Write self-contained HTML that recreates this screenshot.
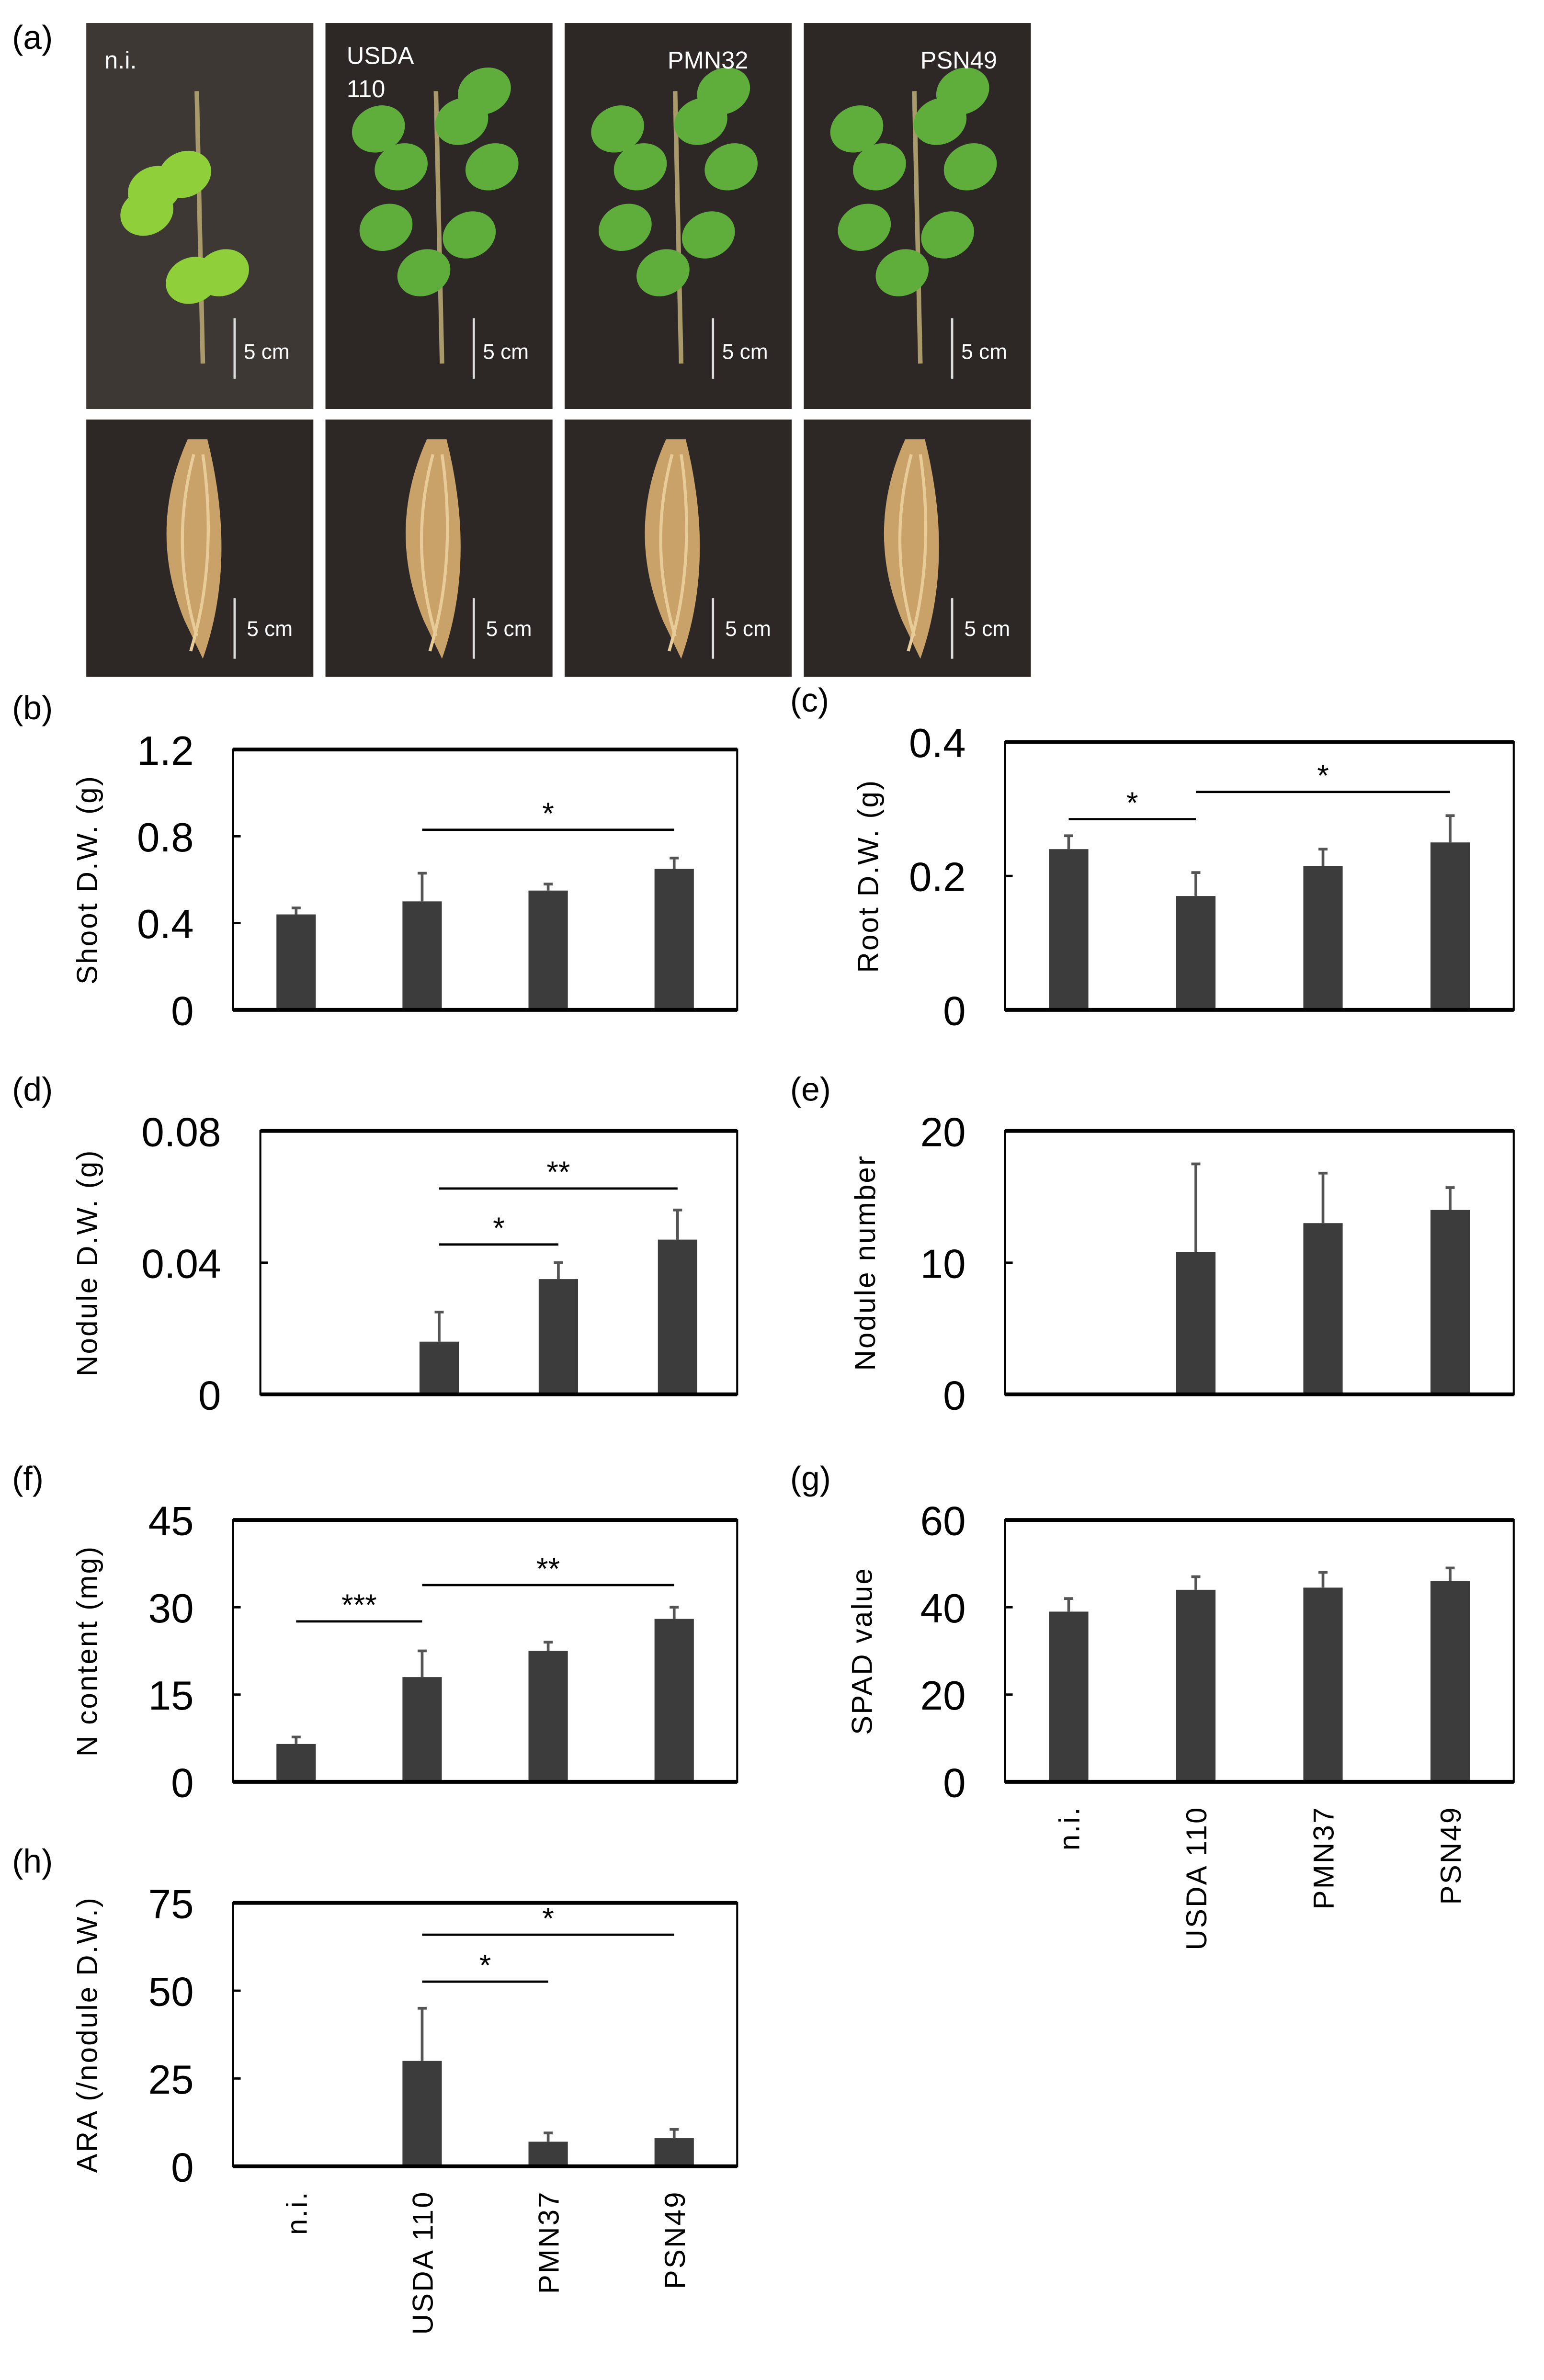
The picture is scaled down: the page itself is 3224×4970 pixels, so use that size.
<!DOCTYPE html>
<html><head><meta charset="utf-8"><style>
html,body{margin:0;padding:0;background:#fff;}
svg{display:block;}
text{font-family:"Liberation Sans","Noto Sans CJK JP",sans-serif;}
</style></head><body>
<svg id="fig" width="3224" height="4970" viewBox="0 0 1020 1572" xmlns="http://www.w3.org/2000/svg">
<rect width="1020" height="1572" fill="#fff"/>
<g id="photos">
<text x="8" y="32" font-size="22">(a)</text>
</g>
<g id="charts"></g>
</svg>
<script>
var NS="http://www.w3.org/2000/svg";
function mk(tag,attrs,parent,txt){var e=document.createElementNS(NS,tag);for(var k in attrs)e.setAttribute(k,attrs[k]);if(txt!==undefined)e.textContent=txt;parent.appendChild(e);return e;}
var categories=["n.i.","USDA 110","PMN37","PSN49"];
var shootVals=[0.44,0.50,0.55,0.65], shootErr=[0.03,0.13,0.03,0.05];
var rootVals=[0.24,0.17,0.215,0.25], rootErr=[0.02,0.035,0.025,0.04];
var noduleDwVals=[0,0.016,0.035,0.047], noduleDwErr=[0,0.009,0.005,0.009];
var noduleNumVals=[0,10.8,13,14], noduleNumErr=[0,6.7,3.8,1.7];
var nVals=[6.5,18,22.5,28], nErr=[1.2,4.5,1.5,2];
var spadVals=[39,44,44.5,46], spadErr=[3,3,3.5,3];
var araVals=[0,30,7,8], araErr=[0,15,2.5,2.5];
var shootTicks=["0","0.4","0.8","1.2"], rootTicks=["0","0.2","0.4"], noduleDwTicks=["0","0.04","0.08"], noduleNumTicks=["0","10","20"], nTicks=["0","15","30","45"], spadTicks=["0","20","40","60"], araTicks=["0","25","50","75"];

// photos
var photos=document.getElementById('photos');
var cols=[57,215,373,531], pw=150, names=["n.i.","USDA","PMN32","PSN49"];
cols.forEach(function(x,i){
  var g=mk('g',{},photos);
  
  
  mk('rect',{x:x,y:15,width:pw,height:255,fill:i==0?'#3e3834':'#2d2826'},g);
  var cx=x+75;
  mk('path',{d:'M'+(cx+2)+' 240 L'+(cx)+' 150 L'+(cx-2)+' 60',stroke:'#a89a6a','stroke-width':3,fill:'none'},g);
  var lc=i==0?'#8fcf3a':'#5fae3c';
  var leaves=i==0?[[-30,125],[-10,115],[-35,140],[15,180],[-5,185]]:[[-40,85],[-25,110],[30,60],[15,80],[20,155],[-10,180],[35,110],[-35,150]];
  leaves.forEach(function(l){mk('ellipse',{cx:cx+l[0],cy:l[1],rx:18,ry:15,fill:lc,transform:'rotate(-25 '+(cx+l[0])+' '+l[1]+')'},g);});
  mk('line',{x1:x+98,y1:210,x2:x+98,y2:250,stroke:'#ddd','stroke-width':1.5},g);
  mk('text',{x:x+104,y:237,'font-size':14,fill:'#fff'},g,'5 cm');
  var r=mk('g',{},photos);
  
  
  mk('rect',{x:x,y:277,width:pw,height:170,fill:'#2d2826'},r);
  mk('path',{d:'M'+(cx-8)+' 290 Q'+(cx-35)+' 350 '+(cx-10)+' 410 L'+(cx+2)+' 435 Q'+(cx+25)+' 370 '+(cx+5)+' 290 Z',fill:'#c9a26a'},r);
  mk('path',{d:'M'+(cx-4)+' 300 Q'+(cx-20)+' 360 '+(cx-2)+' 420 M'+(cx+2)+' 300 Q'+(cx+12)+' 370 '+(cx-6)+' 430',stroke:'#e8cc98','stroke-width':2,fill:'none'},r);
  mk('line',{x1:x+98,y1:395,x2:x+98,y2:435,stroke:'#ddd','stroke-width':1.5},r);
  mk('text',{x:x+106,y:420,'font-size':14,fill:'#fff'},r,'5 cm');
});
mk('text',{x:69,y:45,'font-size':16,fill:'#fff'},photos,'n.i.');
mk('text',{x:229,y:42,'font-size':16,fill:'#fff'},photos,'USDA');
mk('text',{x:229,y:64,'font-size':16,fill:'#fff'},photos,'110');
mk('text',{x:441,y:45,'font-size':16,fill:'#fff'},photos,'PMN32');
mk('text',{x:608,y:45,'font-size':16,fill:'#fff'},photos,'PSN49');

var charts=document.getElementById('charts');
function chart(o){
  var g=mk('g',{},charts);
  
  
  var L=o.x0,R=o.x1,T=o.y0,B=o.y1,max=o.max;
  function ys(v){return B-(v/max)*(B-T);}
  function xs(i){return L+(i+0.5)*(R-L)/4;}
  var lab=mk('text',{x:o.lx,y:T-20,'font-size':22},g,o.label);
  
  
  o.ticks.forEach(function(t){var v=parseFloat(t);var y=ys(v);
    var tl=mk('text',{x:L-26,y:y+10,'font-size':27,'text-anchor':'end'},g,t);
    
    
    mk('line',{x1:L,x2:L+5,y1:y,y2:y,stroke:'#000','stroke-width':1.5},g);});
  o.vals.forEach(function(v,i){
    var cx=xs(i);
    if(v>0){
      var b=mk('rect',{x:cx-13,y:ys(v),width:26,height:B-ys(v),fill:'#3c3c3c'},g);
      
      
      var e=mk('path',{d:'M'+cx+' '+ys(v)+' V'+ys(v+o.err[i])+' M'+(cx-3)+' '+ys(v+o.err[i])+' H'+(cx+3),stroke:'#555','stroke-width':1.8,fill:'none'},g);
      
      
    }
  });
  mk('path',{d:'M'+L+' '+T+' H'+R+' V'+B+' H'+L+' Z',fill:'none',stroke:'#000','stroke-width':1.3},g);
  mk('line',{x1:L,x2:R,y1:T,y2:T,stroke:'#000','stroke-width':2.5},g);
  mk('line',{x1:L,x2:R,y1:B,y2:B,stroke:'#000','stroke-width':2.5},g);
  var yt=mk('text',{x:0,y:0,'font-size':19,'text-anchor':'middle',transform:'translate('+(o.tx)+','+((T+B)/2)+') rotate(-90)','letter-spacing':'1'},g,o.title);
  
  
  (o.sig||[]).forEach(function(s){
    var x1=xs(s[0]),x2=xs(s[1]);
    var l=mk('line',{x1:x1,x2:x2,y1:s[2],y2:s[2],stroke:'#000','stroke-width':1.5},g);
    
    
    mk('text',{x:(x1+x2)/2,y:s[2]-4,'font-size':20,'text-anchor':'middle'},g,s[3]);
  });
  if(o.xl){categories.forEach(function(c,i){
    var t=mk('text',{x:0,y:0,'font-size':19,'text-anchor':'end',transform:'translate('+(xs(i)+7)+','+(B+16)+') rotate(-90)','letter-spacing':'1'},g,c);
    
    
  });}
}
var LX=[154,487],RX=[664,1000];
chart({name:'shoot-dw-chart',label:'(b)',lx:8,x0:LX[0],x1:LX[1],y0:495,y1:667,max:1.2,ticks:shootTicks,vals:shootVals,err:shootErr,tx:64,title:'Shoot D.W. (g)',sig:[[1,3,548,'*']]});
chart({name:'root-dw-chart',label:'(c)',lx:522,x0:RX[0],x1:RX[1],y0:490,y1:667,max:0.4,ticks:rootTicks,vals:rootVals,err:rootErr,tx:580,title:'Root D.W. (g)',sig:[[0,1,541,'*'],[1,3,523,'*']]});
chart({name:'nodule-dw-chart',label:'(d)',lx:8,x0:172,x1:LX[1],y0:747,y1:921,max:0.08,ticks:noduleDwTicks,vals:noduleDwVals,err:noduleDwErr,tx:64,title:'Nodule D.W. (g)',sig:[[1,3,785,'**'],[1,2,822,'*']]});
chart({name:'nodule-number-chart',label:'(e)',lx:522,x0:RX[0],x1:RX[1],y0:747,y1:921,max:20,ticks:noduleNumTicks,vals:noduleNumVals,err:noduleNumErr,tx:578,title:'Nodule number'});
chart({name:'n-content-chart',label:'(f)',lx:8,x0:LX[0],x1:LX[1],y0:1004,y1:1177,max:45,ticks:nTicks,vals:nVals,err:nErr,tx:64,title:'N content (mg)',sig:[[0,1,1071,'***'],[1,3,1047,'**']]});
chart({name:'spad-chart',label:'(g)',lx:522,x0:RX[0],x1:RX[1],y0:1004,y1:1177,max:60,ticks:spadTicks,vals:spadVals,err:spadErr,tx:576,title:'SPAD value',xl:true});
chart({name:'ara-chart',label:'(h)',lx:8,x0:LX[0],x1:LX[1],y0:1257,y1:1431,max:75,ticks:araTicks,vals:araVals,err:araErr,tx:64,title:'ARA (/nodule D.W.)',sig:[[1,3,1278,'*'],[1,2,1309,'*']],xl:true});
</script>
</body></html>
